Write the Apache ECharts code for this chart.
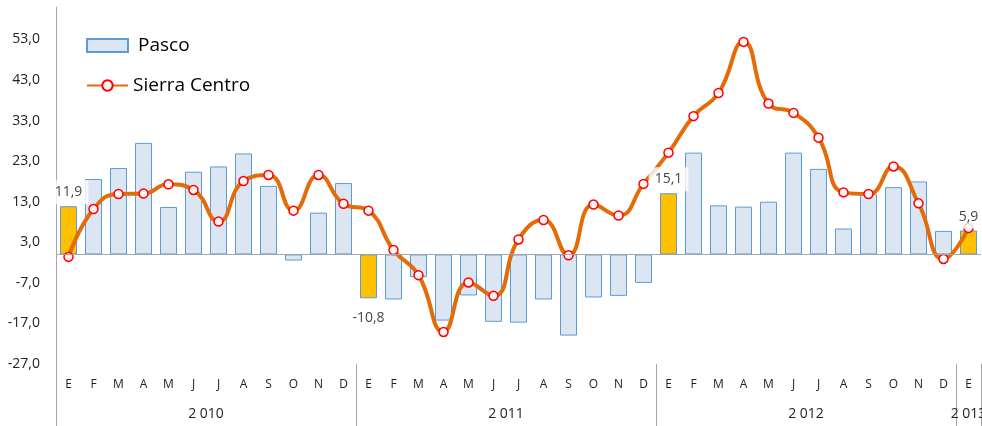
<!DOCTYPE html>
<html>

<head>
    <meta charset="utf-8">
    <title>Pasco / Sierra Centro</title>
    <script src="https://cdn.jsdelivr.net/npm/echarts@6/dist/echarts.min.js"></script>
    <style>
        html, body { margin: 0; padding: 0; background: #fff; }
    </style>
</head>

<body>
    <div id="main" style="width: 982px;height:426px;"></div>
    <script type="text/javascript">

        var months = ['E', 'F', 'M', 'A', 'M', 'J', 'J', 'A', 'S', 'O', 'N', 'D'];
        var categories = months.concat(months, months, ['E']);     // 2010..2012 + E 2013
        var years = ['2 010', '2 011', '2 012', '2 013'];
        var yTicks = [-27, -17, -7, 3, 13, 23, 33, 43, 53];

        var pasco = [11.9, 18.6, 21.3, 27.5, 11.7, 20.4, 21.7, 24.9, 16.9, -1.5, 10.3, 17.6,
            -10.8, -11.1, -5.6, -16.3, -10.1, -16.6, -16.8, -11.1, -20.0, -10.6, -10.2, -7.0,
            15.1, 25.1, 12.1, 11.8, 13.0, 25.1, 21.1, 6.4, 14.9, 16.6, 18.0, 5.8,
            5.9];
        var sierraCentro = [-0.6, 11.2, 14.9, 15.0, 17.3, 15.9, 8.1, 18.1, 19.6, 10.8, 19.6, 12.5,
            10.8, 1.1, -5.1, -19.1, -6.9, -10.2, 3.7, 8.5, -0.2, 12.3, 9.6, 17.4,
            25.1, 34.1, 39.8, 52.4, 37.2, 34.9, 28.8, 15.3, 14.9, 21.7, 12.6, -1.1,
            6.5];
        var highlight = [0, 12, 24, 36];    // january bars, in yellow with a label

        function fmt(v) {
            return v.toFixed(1).replace('.', ',');
        }

        var barData = pasco.map(function (v, i) {
            if (highlight.indexOf(i) >= 0) {
                return { value: v, itemStyle: { color: '#FFC000' } };
            }
            return v;
        });
        // labels drawn by an empty scatter so they stay above the line
        var labelData = pasco.map(function (v, i) {
            if (highlight.indexOf(i) < 0) return '-';
            var item = { value: v };
            if (v < 0) item.label = { position: 'bottom', distance: 8 };
            return item;
        });

        var myChart = echarts.init(document.getElementById('main'));
        var option = {
            animation: false,
            backgroundColor: '#fff',
            textStyle: { fontFamily: 'Open Sans' },
            grid: {
                left: 56, right: 1, top: 7, bottom: 62,
                containLabel: false,
                outerBoundsMode: 'none'
            },
            legend: {
                orient: 'vertical',
                left: 86,
                top: 36,
                padding: 0,
                itemWidth: 41,
                itemHeight: 13,
                itemGap: 21,
                textStyle: { fontSize: 19, color: '#000', fontFamily: 'Open Sans' },
                data: [
                    { name: 'Pasco', icon: 'rect', textStyle: { padding: [0, 0, 0, 5] } },
                    { name: 'Sierra Centro' }
                ]
            },
            xAxis: [{
                type: 'category',
                data: categories,
                axisLine: { show: false },
                axisTick: { show: false },
                axisLabel: {
                    interval: 0,
                    margin: 15,
                    fontSize: 12,
                    color: '#222',
                    fontFamily: 'Open Sans'
                },
                splitLine: { show: false }
            }, {
                // year row + dividers
                type: 'value',
                min: 0,
                max: 37,
                position: 'bottom',
                axisLine: { show: false },
                splitLine: { show: false },
                axisTick: {
                    show: true,
                    inside: false,
                    length: 62,
                    customValues: [0, 12, 24, 36, 37],
                    lineStyle: { color: '#A6A6A6', width: 1 }
                },
                axisLabel: {
                    customValues: [6, 18, 30, 36.5],
                    margin: 43,
                    fontSize: 14,
                    color: '#222',
                    fontFamily: 'Open Sans',
                    formatter: function (v) {
                        return years[[6, 18, 30, 36.5].indexOf(v)];
                    }
                }
            }],
            yAxis: {
                type: 'value',
                min: -27,
                max: 61,
                splitLine: { show: false },
                axisLine: { show: true, lineStyle: { color: '#A6A6A6', width: 1 } },
                axisTick: { show: false },
                axisLabel: {
                    customValues: yTicks,
                    margin: 16,
                    fontSize: 14,
                    color: '#222',
                    fontFamily: 'Open Sans',
                    formatter: fmt
                }
            },
            series: [{
                name: 'Pasco',
                type: 'bar',
                barWidth: 17,
                data: barData,
                itemStyle: {
                    color: '#DCE6F2',
                    borderColor: '#5B9BD5',
                    borderWidth: 1
                },
                emphasis: { disabled: true },
                markLine: {
                    silent: true,
                    symbol: 'none',
                    label: { show: false },
                    lineStyle: { color: '#A6A6A6', width: 1, type: 'solid' },
                    data: [{ yAxis: 0 }]
                }
            }, {
                name: 'Sierra Centro',
                type: 'line',
                smooth: 0.5,
                data: sierraCentro,
                symbol: 'circle',
                symbolSize: 9,
                showAllSymbol: true,
                lineStyle: { color: '#E36C09', width: 4 },
                itemStyle: {
                    color: '#FFF5F5',
                    borderColor: '#FF0000',
                    borderWidth: 1.5
                },
                emphasis: { disabled: true },
                z: 3
            }, {
                name: 'labels',
                type: 'scatter',
                data: labelData,
                symbolSize: 0,
                silent: true,
                z: 5,
                label: {
                    show: true,
                    position: 'top',
                    distance: 2,
                    fontSize: 14,
                    color: '#111',
                    fontFamily: 'Open Sans',
                    backgroundColor: '#fff',
                    padding: [5, 6],
                    formatter: function (p) { return fmt(p.value); }
                }
            }]
        };
        myChart.setOption(option);
    </script>
</body>

</html>
